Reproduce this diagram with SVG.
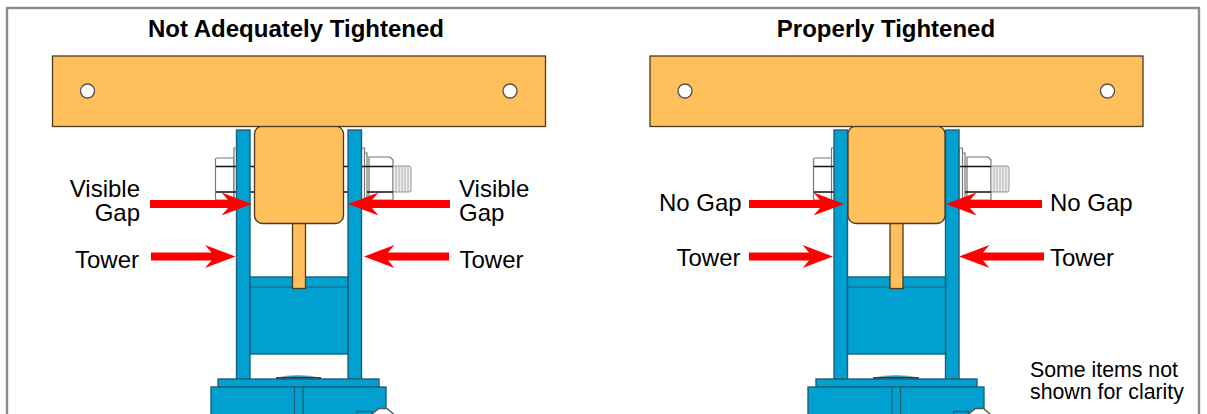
<svg xmlns="http://www.w3.org/2000/svg" width="1207" height="414" viewBox="0 0 1207 414">
<style>
text{font-family:"Liberation Sans",Arial,sans-serif;font-size:24px;fill:#000}
.t{font-weight:bold;text-anchor:middle}
.e{text-anchor:end}
.s{font-size:21.300px}
.o{fill:#ffbf5a;stroke:#4a3a20;stroke-width:1.3}
.b{fill:#00a0d0;stroke:#1f5f78;stroke-width:1.4}
.l{fill:none;stroke:#1f5f78;stroke-width:1.2}
.h{fill:#fff;stroke:#555;stroke-width:1.4}
.g{fill:#fff;stroke:#777;stroke-width:1.2}
.k{fill:none;stroke:#111;stroke-width:1.3}
.th{fill:#f0f0f0;stroke:#888;stroke-width:.9}
.a{fill:#f00}
.ln{fill:none;stroke:#999;stroke-width:.8}
</style>
<defs>
<g id="thread"><rect class="th" x="0" y="0" width="18" height="26" rx="2"/><path class="ln" d="M3 0v26M6 0v26M9 0v26M12 0v26M15 0v26"/></g>
</defs>
<rect x="7" y="8" width="1192" height="420" fill="#fff" stroke="#8c8c8c" stroke-width="2.4"/>
<text class="t" x="296" y="36.500">Not Adequately Tightened</text>
<text class="t" x="886" y="36.500">Properly Tightened</text>

<g id="left-assembly">
<g id="left-hardware">
<path class="g" d="M217 158h17v42h-17a1.500 1.500 0 0 1-1.500-1.500v-39a1.500 1.500 0 0 1 1.500-1.500z"/>
<path class="g" d="M234 148h3v56h-3z"/>
<path class="k" d="M216 166.500h20M216 192h20M250 166.500h5M250 192h5M343 166.500h6M343 192h6"/>
<path class="g" d="M361 148h3.500v57h-3.500zM364.500 153h2.500v47h-2.500z"/>
<path class="g" d="M369 157h21l3 3v40h-24z"/>
<path class="k" d="M362 166.500h31M367 192h26"/>
<use href="#thread" x="393" y="166"/>
</g>
<rect id="left-tower-l" class="b" x="236.500" y="130" width="13.500" height="249"/>
<rect id="left-tower-r" class="b" x="348" y="130" width="13.500" height="249"/>
<g id="left-cross">
<rect class="b" x="250" y="277" width="98" height="77"/>
<path class="l" d="M250 287h98"/>
</g>
<g id="left-base">
<path d="M276 378q22-5 45 0z" fill="#00a0d0" stroke="#999" stroke-width=".8"/>
<path d="M276 378h45" stroke="#123" stroke-width="1.500"/>
<rect class="b" x="218" y="379" width="161" height="8"/>
<rect class="b" x="211" y="387" width="175" height="40"/>
<path class="l" d="M294.500 387v27M303 387v27"/>
<path class="b" d="M357 411.500h15v6h-15z"/>
<path class="h" d="M372 414l7-5.500h8l7 6v2h-22z"/>
</g>
<rect id="left-stem" class="o" x="292.500" y="220" width="13" height="68.500"/>
<rect id="left-block" class="o" x="254.500" y="126" width="89" height="97.500" rx="8"/>
<g id="left-plate">
<rect class="o" x="52.500" y="56" width="493" height="70.500"/>
<circle class="h" cx="87.500" cy="91" r="7"/>
<circle class="h" cx="510" cy="91" r="7"/>
</g>
</g>

<g id="right-assembly">
<g id="right-hardware">
<path class="g" d="M815 158h17v42h-17a1.500 1.500 0 0 1-1.500-1.500v-39a1.500 1.500 0 0 1 1.500-1.500z"/>
<path class="g" d="M831.500 148h3v56h-3z"/>
<path class="k" d="M814 166.500h20M814 192h20"/>
<path class="g" d="M959 148h3.500v57h-3.500zM962.500 153h2.500v47h-2.500z"/>
<path class="g" d="M967 157h21l3 3v40h-24z"/>
<path class="k" d="M960 166.500h31M965 192h26"/>
<use href="#thread" x="991" y="166"/>
</g>
<rect id="right-tower-l" class="b" x="834" y="130" width="13.500" height="249"/>
<rect id="right-tower-r" class="b" x="945.500" y="130" width="13.500" height="249"/>
<g id="right-cross">
<rect class="b" x="847.500" y="277" width="98" height="77"/>
<path class="l" d="M847.500 287h98"/>
</g>
<g id="right-base">
<path d="M873 378q23-5 46 0z" fill="#00a0d0" stroke="#999" stroke-width=".8"/>
<path d="M873 378h46" stroke="#123" stroke-width="1.500"/>
<rect class="b" x="816" y="379" width="161" height="8"/>
<rect class="b" x="808" y="387" width="176" height="40"/>
<path class="l" d="M892 387v27M900.500 387v27"/>
<path class="b" d="M953.500 411.500h15v6h-15z"/>
<path class="h" d="M968.500 414l7-5.500h8l7 6v2h-22z"/>
</g>
<rect id="right-stem" class="o" x="890" y="220" width="13" height="68.500"/>
<rect id="right-block" class="o" x="848" y="126" width="97" height="97.500" rx="8"/>
<g id="right-plate">
<rect class="o" x="650" y="56" width="493" height="70.500"/>
<circle class="h" cx="685" cy="91" r="7"/>
<circle class="h" cx="1107.500" cy="91" r="7"/>
</g>
</g>

<g id="connectors">
<path class="a" d="M150 200h78l-6.500-7.500 30.500 11.500-30.500 11.500 6.500-7.500h-78z"/>
<path class="a" d="M450 200h-78l6.500-7.500-30.500 11.500 30.500 11.500-6.500-7.500h78z"/>
<path class="a" d="M151 252.500h60.500l-6.500-7.500 30.500 11.500-30.500 11.500 6.500-7.500h-60.500z"/>
<path class="a" d="M449 252.500h-61l6.500-7.500-30.500 11.500 30.500 11.500-6.500-7.500h61z"/>
<path class="a" d="M749 200h71l-6.500-7.500 30.500 11.500-30.500 11.500 6.500-7.500h-71z"/>
<path class="a" d="M1042 200h-72l6.500-7.500-30.500 11.500 30.500 11.500-6.500-7.500h72z"/>
<path class="a" d="M749 252.500h60l-6.500-7.500 30.500 11.500-30.500 11.500 6.500-7.500h-60z"/>
<path class="a" d="M1044 252.500h-61l6.500-7.500-30.500 11.500 30.500 11.500-6.500-7.500h61z"/>
</g>

<g id="labels">
<text class="e"><tspan x="140" y="196.500">Visible</tspan><tspan x="140" y="220.500">Gap</tspan></text>
<text><tspan x="459" y="196.500">Visible</tspan><tspan x="459" y="220.500">Gap</tspan></text>
<text x="75" y="267.500">Tower</text>
<text x="459.500" y="267.500">Tower</text>
<text x="659" y="210.500">No Gap</text>
<text x="1050" y="210.500">No Gap</text>
<text x="676.500" y="265.500">Tower</text>
<text x="1050" y="265.500">Tower</text>
<text class="s"><tspan x="1030" y="377">Some items not</tspan><tspan x="1030" y="399">shown for clarity</tspan></text>
</g>
</svg>
